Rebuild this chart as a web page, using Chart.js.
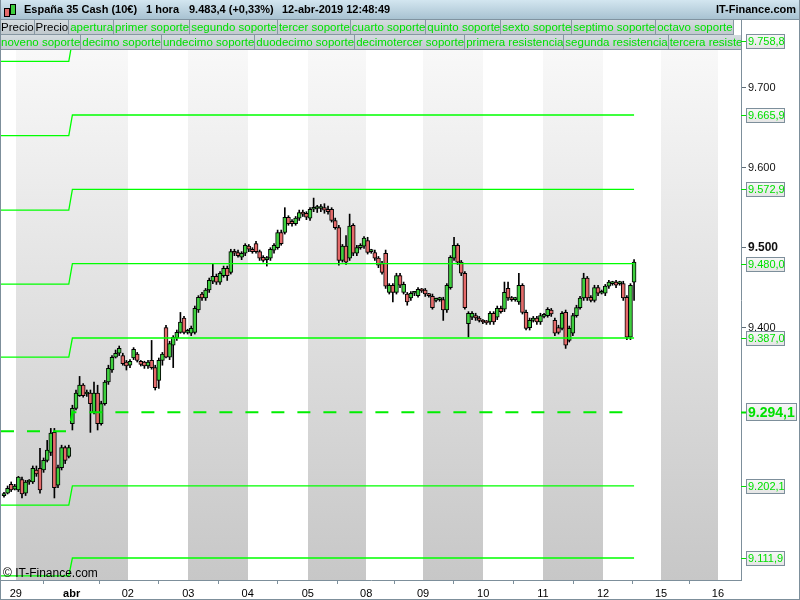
<!DOCTYPE html>
<html>
<head>
<meta charset="utf-8">
<script src="https://cdn.jsdelivr.net/npm/chart.js@4.4.1/dist/chart.umd.min.js"></script>
<style>
  html, body { margin: 0; padding: 0; background: #fff; }
  body { width: 800px; height: 600px; position: relative; overflow: hidden;
         font-family: "Liberation Sans", Arial, sans-serif; }
  #chart { position: absolute; left: 0; top: 0; }
  #hdr { position: absolute; left: 0; top: 0; width: 800px; height: 20px;
         background: linear-gradient(#d3e6f0, #a8c2d1); border-bottom: 1px solid #8093a0;
         box-sizing: border-box; }
  #hdr span { position: absolute; top: 3px; font-size: 11px; font-weight: bold; color: #000; white-space: nowrap; }
  .row { position: absolute; left: 0; height: 15px; overflow: hidden; white-space: nowrap;
         font-size: 11.5px; line-height: 14px; }
  .row span { display: inline-block; height: 14px; padding-left: 1px; color: #00e000;
         background: linear-gradient(#d5dce0, #c1c9ce); border-right: 1px solid #8797a2;
         border-bottom: 1px solid #8797a2; }
  .row span.blk { color: #000; }
  #row1 { top: 20px; width: 735px; }
  #row2 { top: 35px; width: 741px; }
  .ico { position: absolute; border: 1px solid #000; }
  #wm { position: absolute; left: 3px; top: 566px; font-size: 12px; color: #000; }
  #frame { position: absolute; left: 0; top: 0; width: 800px; height: 600px; box-sizing: border-box;
           border: 1px solid #7d8f9b; border-top: none; pointer-events: none; }
</style>
</head>
<body>
<canvas id="chart" width="800" height="600"></canvas>
<div id="hdr">
  <div class="ico" style="left:4px;top:8px;width:4px;height:7px;background:#e56b6b"></div>
  <div class="ico" style="left:10px;top:4px;width:4px;height:9px;background:#3fcf3f"></div>
  <span style="left:24px">España 35 Cash (10€)</span>
  <span style="left:146px">1 hora</span>
  <span style="left:189px">9.483,4 (+0,33%)</span>
  <span style="left:282px">12-abr-2019 12:48:49</span>
  <span style="right:4px">IT-Finance.com</span>
</div>
<div class="row" id="row1"><span class="blk">Precio</span><span class="blk">Precio</span><span>apertura</span><span>primer soporte</span><span>segundo soporte</span><span>tercer soporte</span><span>cuarto soporte</span><span>quinto soporte</span><span>sexto soporte</span><span>septimo soporte</span><span>octavo soporte</span></div>
<div class="row" id="row2"><span>noveno soporte</span><span>decimo soporte</span><span>undecimo soporte</span><span>duodecimo soporte</span><span>decimotercer soporte</span><span>primera resistencia</span><span>segunda resistencia</span><span>tercera resistencia</span></div>
<div id="wm">© IT-Finance.com</div>
<div id="frame"></div>
<script>
// hourly candles, España 35 Cash
const opens = [
  9190, 9193, 9204, 9198, 9197, 9210, 9193, 9207, 9207, 9222,
  9224, 9222, 9234, 9244, 9269, 9203, 9225, 9250, 9239, 9280,
  9299, 9315, 9328, 9317, 9318, 9294, 9318, 9280, 9305, 9332,
  9347, 9363, 9368, 9365, 9357, 9353, 9362, 9367, 9358, 9357,
  9352, 9359, 9350, 9334, 9359, 9400, 9363, 9378, 9387, 9394,
  9412, 9394, 9393, 9394, 9422, 9442, 9437, 9447, 9458, 9464,
  9457, 9465, 9474, 9469, 9495, 9494, 9488, 9493, 9502, 9498,
  9505, 9495, 9488, 9485, 9487, 9497, 9500, 9519, 9519, 9538,
  9533, 9530, 9537, 9544, 9543, 9537, 9548, 9549, 9549, 9550,
  9548, 9548, 9534, 9525, 9484, 9502, 9487, 9528, 9493, 9500,
  9502, 9509, 9495, 9494, 9487, 9480, 9493, 9444, 9453, 9444,
  9465, 9444, 9442, 9437, 9443, 9440, 9447, 9447, 9442, 9439,
  9434, 9435, 9435, 9422, 9450, 9487, 9503, 9482, 9468, 9405,
  9413, 9415, 9412, 9408, 9407, 9407, 9418, 9413, 9424, 9423,
  9449, 9437, 9435, 9432, 9453, 9419, 9400, 9409, 9412, 9407,
  9414, 9415, 9422, 9409, 9400, 9399, 9419, 9384, 9393, 9415,
  9425, 9437, 9462, 9438, 9434, 9450, 9443, 9443, 9452, 9455,
  9457, 9455, 9455, 9438, 9388, 9457
];
const highs = [
  9194, 9202, 9207, 9204, 9214, 9213, 9209, 9210, 9227, 9227,
  9249, 9237, 9259, 9274, 9274, 9228, 9253, 9252, 9253, 9303,
  9322, 9339, 9330, 9322, 9322, 9332, 9328, 9308, 9334, 9353,
  9365, 9372, 9377, 9368, 9359, 9360, 9375, 9369, 9359, 9358,
  9359, 9384, 9353, 9362, 9369, 9403, 9383, 9390, 9397, 9419,
  9414, 9398, 9402, 9427, 9440, 9444, 9449, 9462, 9480, 9467,
  9470, 9477, 9477, 9498, 9498, 9497, 9495, 9505, 9504, 9500,
  9508, 9497, 9490, 9489, 9500, 9505, 9522, 9522, 9550, 9540,
  9535, 9539, 9547, 9547, 9545, 9550, 9562, 9553, 9554, 9555,
  9552, 9550, 9537, 9528, 9504, 9515, 9542, 9530, 9503, 9505,
  9514, 9513, 9498, 9497, 9489, 9483, 9497, 9455, 9455, 9468,
  9468, 9457, 9444, 9445, 9445, 9450, 9449, 9449, 9443, 9442,
  9437, 9438, 9438, 9455, 9490, 9513, 9505, 9484, 9470, 9420,
  9420, 9418, 9414, 9410, 9409, 9420, 9420, 9427, 9427, 9457,
  9457, 9439, 9438, 9468, 9455, 9422, 9412, 9414, 9414, 9418,
  9418, 9425, 9424, 9412, 9403, 9420, 9422, 9402, 9418, 9428,
  9439, 9468, 9464, 9440, 9453, 9453, 9447, 9454, 9459, 9458,
  9459, 9458, 9458, 9440, 9455, 9485
];
const lows = [
  9188, 9192, 9195, 9197, 9195, 9187, 9190, 9204, 9205, 9214,
  9193, 9219, 9232, 9240, 9187, 9200, 9222, 9230, 9237, 9272,
  9297, 9314, 9313, 9314, 9269, 9292, 9272, 9278, 9303, 9329,
  9344, 9362, 9365, 9353, 9347, 9350, 9360, 9357, 9352, 9349,
  9349, 9348, 9322, 9324, 9353, 9362, 9360, 9350, 9384, 9393,
  9392, 9392, 9390, 9392, 9419, 9434, 9434, 9444, 9455, 9454,
  9454, 9463, 9459, 9467, 9490, 9488, 9485, 9490, 9495, 9493,
  9493, 9484, 9482, 9477, 9484, 9493, 9498, 9503, 9517, 9528,
  9527, 9528, 9534, 9539, 9535, 9534, 9545, 9544, 9545, 9543,
  9542, 9532, 9523, 9478, 9482, 9479, 9484, 9490, 9490, 9498,
  9499, 9492, 9493, 9484, 9475, 9467, 9449, 9442, 9432, 9442,
  9450, 9442, 9428, 9434, 9440, 9438, 9444, 9439, 9438, 9423,
  9432, 9433, 9409, 9419, 9448, 9484, 9479, 9465, 9423, 9388,
  9410, 9409, 9407, 9405, 9404, 9404, 9404, 9410, 9418, 9420,
  9434, 9433, 9433, 9429, 9417, 9397, 9397, 9407, 9404, 9404,
  9412, 9413, 9414, 9390, 9392, 9397, 9374, 9382, 9390, 9413,
  9423, 9434, 9434, 9432, 9432, 9440, 9442, 9440, 9449, 9453,
  9450, 9453, 9434, 9385, 9385, 9434
];
const closes = [
  9192, 9199, 9197, 9202, 9213, 9192, 9207, 9208, 9224, 9217,
  9197, 9234, 9247, 9268, 9200, 9225, 9250, 9234, 9250, 9299,
  9318, 9328, 9315, 9318, 9305, 9318, 9280, 9305, 9332, 9349,
  9363, 9368, 9374, 9355, 9352, 9358, 9373, 9359, 9354, 9352,
  9357, 9350, 9325, 9359, 9367, 9363, 9380, 9388, 9394, 9407,
  9394, 9395, 9399, 9424, 9438, 9437, 9447, 9459, 9464, 9457,
  9468, 9474, 9465, 9495, 9493, 9490, 9493, 9503, 9498, 9495,
  9495, 9487, 9484, 9487, 9498, 9503, 9519, 9505, 9538, 9530,
  9530, 9537, 9544, 9542, 9538, 9548, 9550, 9550, 9550, 9547,
  9545, 9534, 9525, 9484, 9502, 9482, 9527, 9493, 9500, 9503,
  9512, 9494, 9496, 9487, 9478, 9469, 9452, 9453, 9444, 9465,
  9453, 9454, 9432, 9443, 9444, 9448, 9446, 9442, 9440, 9425,
  9435, 9436, 9422, 9453, 9488, 9503, 9482, 9468, 9425, 9418,
  9418, 9412, 9409, 9407, 9406, 9418, 9407, 9424, 9420, 9444,
  9437, 9435, 9436, 9453, 9419, 9399, 9409, 9412, 9407, 9415,
  9415, 9423, 9417, 9393, 9394, 9418, 9378, 9399, 9415, 9425,
  9437, 9462, 9437, 9434, 9450, 9443, 9444, 9452, 9457, 9456,
  9453, 9456, 9437, 9388, 9453, 9482
];

// day boundaries (in bar units) and their labels
const dayTicks = [3.3, 18.8, 34.4, 51.2, 67.7, 84.4, 100.6, 116.4, 133.1, 149.7, 166.4, 182.5, 198.3];
const dayLabels = ['29', 'abr', '02', '03', '04', '05', '08', '09', '10', '11', '12', '15', '16'];
const dayOfMonth = [29, 1, 2, 3, 4, 5, 8, 9, 10, 11, 12, 15, 16];

// support / resistance levels: previous day and current day
const levelsPrev = [9733.0, 9640.0, 9547.0, 9454.5, 9363.0, 9270.5, 9178.0, 9089.5];
const levelsNow = [9758.8, 9665.9, 9572.9, 9480.0, 9387.0, 9294.1, 9202.1, 9111.9];
const pivotLevel = 5;
const levelSwitchBar = 18;

const yTicks = [9400, 9500, 9600, 9700];
const yMin = 9084.4, yMax = 9784.7;
const xMin = -0.83, xMax = 204.7;

const UP = '#3fcf3f', DOWN = '#e56b6b', LEVEL = '#00ff00', AXIS = '#7d8f9b';
const FONT = '"Liberation Sans", Arial, sans-serif';

function fmtInt(v) {
    return String(Math.round(v)).replace(/\B(?=(\d{3})+(?!\d))/g, '.');
}
function fmtLevel(v) {
    const parts = v.toFixed(1).split('.');
    return fmtInt(+parts[0]) + ',' + parts[1];
}

const lastBar = closes.length - 1;

const levelSets = levelsNow.map((v, k) => ({
    type: 'line',
    data: [
        {x: xMin, y: levelsPrev[k]},
        {x: levelSwitchBar, y: levelsPrev[k]},
        {x: levelSwitchBar + 1, y: v},
        {x: lastBar, y: v}
    ],
    borderColor: k === pivotLevel ? '#00ee00' : LEVEL,
    borderWidth: k === pivotLevel ? 2 : 1.3,
    borderDash: k === pivotLevel ? [13, 13] : [],
    pointRadius: 0,
    tension: 0,
    order: 0
}));

// striped background for odd days, value boxes on the right axis
const decor = {
    id: 'decor',
    beforeDatasetsDraw(chart) {
        const {ctx, chartArea: a, scales: {x}} = chart;
        const g = ctx.createLinearGradient(0, a.top, 0, a.bottom);
        g.addColorStop(0, '#fbfbfb');
        g.addColorStop(1, '#c7c7c7');
        ctx.save();
        ctx.fillStyle = g;
        dayTicks.forEach((t, k) => {
            if (dayOfMonth[k] % 2 === 0) return;
            const end = k + 1 < dayTicks.length ? dayTicks[k + 1] : xMax;
            const x0 = Math.round(x.getPixelForValue(t));
            const x1 = Math.round(x.getPixelForValue(end));
            ctx.fillRect(x0, a.top, x1 - x0, a.bottom - a.top);
        });
        ctx.restore();
    },
    afterDraw(chart) {
        const {ctx, chartArea: a, scales: {y}} = chart;
        ctx.save();
        levelsNow.forEach((v, k) => {
            const py = Math.round(y.getPixelForValue(v));
            const bold = k === pivotLevel;
            const w = bold ? 51 : 39, h = bold ? 18 : 15;
            const bx = a.right + 5, by = py - Math.floor(h / 2);
            ctx.strokeStyle = '#00e000';
            ctx.lineWidth = bold ? 2 : 1;
            ctx.beginPath();
            ctx.moveTo(a.right, py + 0.5);
            ctx.lineTo(bx, py + 0.5);
            ctx.stroke();
            const g = ctx.createLinearGradient(0, by, 0, by + h);
            g.addColorStop(0, '#f8f8f8');
            g.addColorStop(1, '#e4e4e4');
            ctx.fillStyle = g;
            ctx.fillRect(bx, by, w, h);
            ctx.lineWidth = 1;
            ctx.strokeStyle = AXIS;
            ctx.strokeRect(bx + 0.5, by + 0.5, w - 1, h - 1);
            ctx.fillStyle = '#00e000';
            ctx.font = (bold ? 'bold 14px ' : '11px ') + FONT;
            ctx.textBaseline = 'middle';
            ctx.fillText(fmtLevel(v), bx + 2, py + 1);
        });
        ctx.restore();
    }
};

Chart.defaults.font.family = FONT;

new Chart(document.getElementById('chart'), {
    type: 'bar',
    data: {
        datasets: [
            ...levelSets,
            {
                data: opens.map((o, i) => ({x: i, y: [o, closes[i]]})),
                backgroundColor: opens.map((o, i) => closes[i] >= o ? UP : DOWN),
                borderColor: '#000',
                borderWidth: 1,
                borderSkipped: false,
                barThickness: 4,
                minBarLength: 2,
                grouped: false,
                order: 1
            },
            {
                data: lows.map((l, i) => ({x: i, y: [l, highs[i]]})),
                backgroundColor: '#000',
                borderWidth: 0,
                barThickness: 1,
                grouped: false,
                order: 2
            }
        ]
    },
    options: {
        responsive: false,
        animation: false,
        events: [],
        layout: {padding: {top: 20, left: 1, right: 0, bottom: 0}},
        plugins: {legend: {display: false}, tooltip: {enabled: false}},
        scales: {
            x: {
                type: 'linear',
                min: xMin,
                max: xMax,
                offset: false,
                afterBuildTicks: s => { s.ticks = dayTicks.map(v => ({value: v})); },
                afterFit: s => { s.height = 20; },
                grid: {drawOnChartArea: false, tickLength: 4, color: AXIS},
                border: {color: AXIS},
                ticks: {
                    autoSkip: false,
                    maxRotation: 0,
                    padding: 3,
                    color: '#000',
                    font: c => ({size: 11, weight: c.index === 1 ? 'bold' : 'normal'}),
                    callback: (v, i) => dayLabels[i]
                }
            },
            y: {
                position: 'right',
                min: yMin,
                max: yMax,
                afterBuildTicks: s => { s.ticks = yTicks.map(v => ({value: v})); },
                afterFit: s => { s.width = 59; },
                grid: {drawOnChartArea: false, tickLength: 5, color: '#5d6b75'},
                border: {color: AXIS},
                ticks: {
                    padding: 2,
                    color: '#111',
                    font: c => ({size: c.tick && c.tick.value === 9500 ? 12 : 11,
                                 weight: c.tick && c.tick.value === 9500 ? 'bold' : 'normal'}),
                    callback: v => fmtInt(v)
                }
            }
        }
    },
    plugins: [decor]
});
</script>
</body>
</html>
